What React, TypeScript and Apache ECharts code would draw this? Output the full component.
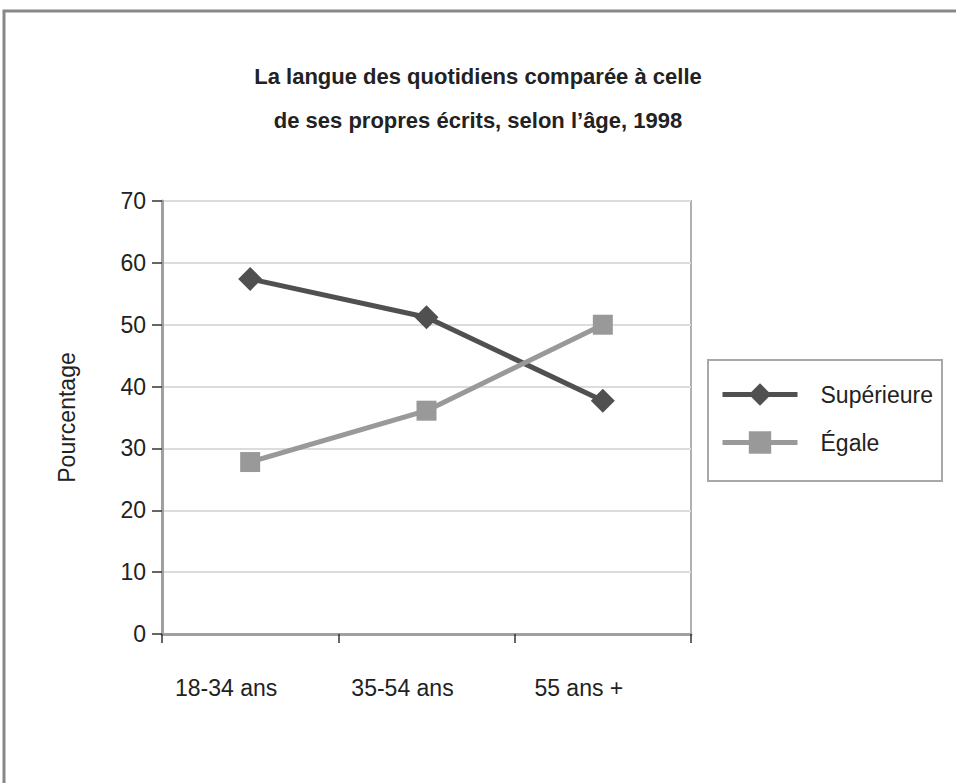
import React, { useEffect, useRef } from "react";
import * as echarts from "echarts";

const categories = ["18-34 ans", "35-54 ans", "55 ans +"];
const superieure = [57.4, 51.2, 37.7];
const egale = [27.8, 36.1, 50.0];
const seriesNames = ["Supérieure", "Égale"];
const titleLines = [
  "La langue des quotidiens comparée à celle",
  "de ses propres écrits, selon l’âge, 1998",
];
const yAxisName = "Pourcentage";

const SANS = "'Liberation Sans', Arial, sans-serif";
const FS = 23;

export default function App() {
  const ref = useRef<HTMLDivElement>(null);
  useEffect(() => {
    if (!ref.current) return;
    const chart = echarts.init(ref.current, undefined, { renderer: "svg" });
    chart.setOption({
      animation: false,
      backgroundColor: "#ffffff",
      title: {
        text: titleLines.join("\n"),
        left: "center",
        top: 49,
        textStyle: {
          fontFamily: SANS,
          fontSize: 22,
          fontWeight: "bold",
          lineHeight: 44,
          color: "#222222",
        },
      },
      grid: {
        left: 162,
        top: 201,
        width: 529,
        height: 433,
        show: true,
        borderColor: "#b0b0b0",
        borderWidth: 2,
      },
      xAxis: {
        type: "category",
        data: categories,
        boundaryGap: true,
        axisLine: { lineStyle: { color: "#a0a0a0", width: 3 } },
        axisTick: { show: true, length: 9, lineStyle: { color: "#333333", width: 1.5 } },
        axisLabel: {
          margin: 42,
          fontFamily: SANS,
          fontSize: FS,
          color: "#222222",
          padding: [0, 48, 0, 0],
        },
        splitLine: { show: false },
      },
      yAxis: {
        type: "value",
        min: 0,
        max: 70,
        interval: 10,
        name: yAxisName,
        nameLocation: "middle",
        nameGap: 84,
        nameTextStyle: { fontFamily: SANS, fontSize: FS, color: "#222222" },
        axisLine: { show: true, lineStyle: { color: "#a0a0a0", width: 3 } },
        axisTick: { show: true, length: 10, lineStyle: { color: "#333333", width: 1.5 } },
        axisLabel: { margin: 16, fontFamily: SANS, fontSize: FS, color: "#222222" },
        splitLine: { lineStyle: { color: "#dcdcdc", width: 2 } },
      },
      legend: {
        data: seriesNames,
        orient: "vertical",
        left: 720,
        top: 383,
        padding: 0,
        itemWidth: 75,
        itemHeight: 28,
        itemGap: 25,
        lineStyle: { width: 5 },
        textStyle: {
          fontFamily: SANS,
          fontSize: FS,
          color: "#222222",
          padding: [0, 0, 0, 18],
        },
      },
      graphic: [
        {
          type: "rect",
          shape: { x: 4, y: 11, width: 1200, height: 1200 },
          style: { fill: "none", stroke: "#888888", lineWidth: 3 },
          silent: true,
        },
        {
          type: "rect",
          shape: { x: 708, y: 360, width: 234, height: 121 },
          style: { fill: "none", stroke: "#a8a8a8", lineWidth: 2 },
          silent: true,
        },
      ],
      series: [
        {
          name: seriesNames[0],
          type: "line",
          data: superieure,
          symbol: "diamond",
          symbolSize: 24,
          lineStyle: { color: "#505050", width: 5 },
          itemStyle: { color: "#505050" },
        },
        {
          name: seriesNames[1],
          type: "line",
          data: egale,
          symbol: "rect",
          symbolSize: 20,
          lineStyle: { color: "#999999", width: 5 },
          itemStyle: { color: "#999999" },
        },
      ],
    });
    return () => chart.dispose();
  }, []);
  return (
    <div
      ref={ref}
      style={{ position: "fixed", left: 0, top: 0, width: 956, height: 783, background: "#fff" }}
    />
  );
}
